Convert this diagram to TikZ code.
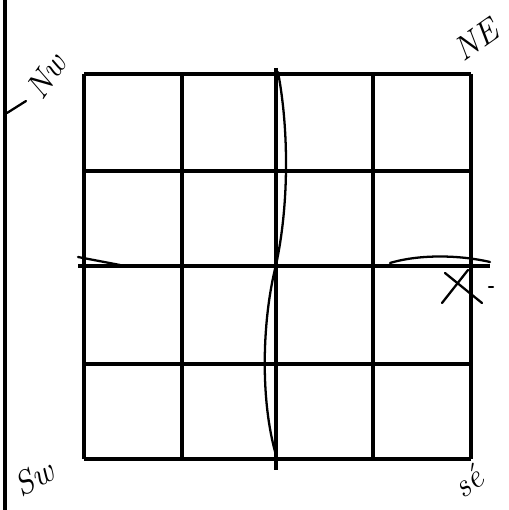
\documentclass[tikz,border=0pt]{standalone}
\begin{document}
\begin{tikzpicture}[x=0.02cm,y=0.02cm,
  gridline/.style={line width=1.8pt,black},
  penline/.style={line width=1.3pt,black,line cap=round},
  hand/.style={font=\fontsize{19}{19}\selectfont\itshape,inner sep=0pt}]
\useasboundingbox (0,0) rectangle (508,-510);
% left border line
\draw[line width=2.4pt] (5,0) -- (5,-510);
% grid
\foreach \x in {84,182,373,471} \draw[gridline] (\x,-74) -- (\x,-459);
\foreach \y in {74,171,364,459} \draw[gridline] (84,-\y) -- (471,-\y);
% centre axes
\draw[gridline] (276,-68) -- (276,-470);
\draw[gridline] (78,-266) -- (490,-266);
% hand-drawn strokes on axes
\draw[penline] (278,-72) .. controls (289,-130) and (289,-205) .. (276,-265)
               .. controls (262,-320) and (260,-400) .. (276,-455);
\draw[penline] (390,-263) .. controls (420,-254) and (460,-255) .. (490,-262);
\draw[penline] (78,-257) -- (120,-265);
% X mark
\draw[penline] (445,-273) -- (482,-303);
\draw[penline] (442,-303) -- (468,-270);
\draw[penline] (489,-287) -- (493,-287);
% NW pointer stroke
\draw[penline] (7,-113) -- (26,-101);
% labels
\node[hand,rotate=55] (nw) at (46,-76) {Nw};
\node[hand,rotate=35] (ne) at (476,-40) {NE};
\node[hand,rotate=28] (sw) at (34,-478) {Sw};
\node[hand,rotate=38] (se) at (468,-482) {s\'e};
\end{tikzpicture}
\end{document}
